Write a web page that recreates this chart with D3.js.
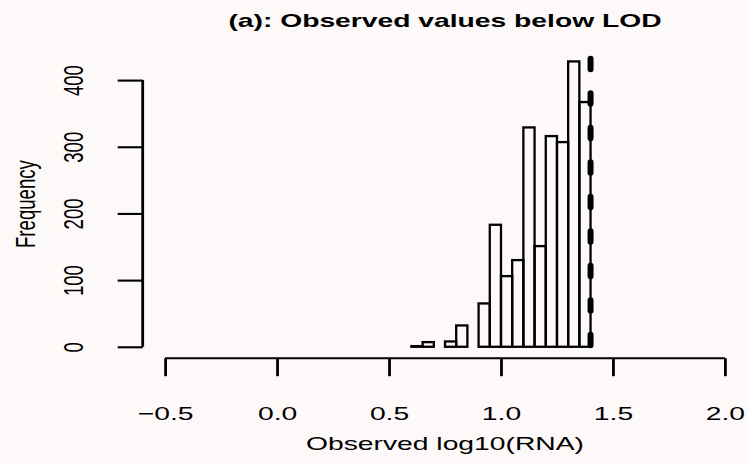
<!DOCTYPE html>
<html>
<head>
<meta charset="utf-8">
<script src="https://cdn.jsdelivr.net/npm/d3@7"></script>
<style>
  html, body { margin: 0; padding: 0; background: #fdf9f8; }
  svg { display: block; }
  text { font-family: "Liberation Sans", Arial, Helvetica, sans-serif; fill: #000; }
</style>
</head>
<body>
<svg id="chart"></svg>
<script>
const chartSize = { width: 748, height: 463 };
const plot = { left: 142.7, right: 747.3, top: 50, bottom: 358.2 };

// histogram bins (left edges) and counts
const binStarts = [0.60, 0.65, 0.70, 0.75, 0.80, 0.85, 0.90, 0.95, 1.00, 1.05, 1.10, 1.15, 1.20, 1.25, 1.30, 1.35];
const binWidth = 0.05;
const counts = [1, 7, 0, 8, 32, 0, 65, 183, 106, 130, 329, 151, 316, 307, 428, 367];
const xTicks = [-0.5, 0.0, 0.5, 1.0, 1.5, 2.0];
const yTicks = [0, 100, 200, 300, 400];
const lod = 1.4;
const lodTop = 433;

const title = "(a): Observed values below LOD";
const xTitle = "Observed log10(RNA)";
const yTitle = "Frequency";

const fontSize = 18.6;
const stretch = 1.52; // the picture is wider than it is tall
const fmt = d => d3.format(".1f")(d).replace("-", "\u2212");

const xPad = 0.04 * (d3.max(xTicks) - d3.min(xTicks));
const x = d3.scaleLinear()
  .domain([d3.min(xTicks) - xPad, d3.max(xTicks) + xPad])
  .range([plot.left, plot.right]);

const yMax = d3.max(counts);
const y = d3.scaleLinear()
  .domain([-0.04 * yMax, yMax * 1.04])
  .range([plot.bottom, plot.top]);

const svg = d3.select("#chart")
  .attr("width", chartSize.width)
  .attr("height", chartSize.height);

svg.append("rect")
  .attr("width", chartSize.width)
  .attr("height", chartSize.height)
  .attr("fill", "#fdf9f8");

const stretchedText = (sel, tx, ty, rot) =>
  sel.attr("transform", `translate(${tx},${ty}) scale(${stretch},1)${rot ? " rotate(-90)" : ""}`)
    .attr("font-size", fontSize)
    .attr("text-anchor", "middle");

// bars
svg.append("g")
  .selectAll("rect")
  .data(binStarts.map((b, i) => ({ x0: b, x1: b + binWidth, n: counts[i] })))
  .enter()
  .append("rect")
  .attr("x", d => x(d.x0))
  .attr("width", d => x(d.x1) - x(d.x0))
  .attr("y", d => y(d.n))
  .attr("height", d => y(0) - y(d.n))
  .attr("fill", "none")
  .attr("stroke", "#000")
  .attr("stroke-width", 2.3);

// LOD line
svg.append("line")
  .attr("x1", x(lod)).attr("x2", x(lod))
  .attr("y1", y(0)).attr("y2", y(lodTop))
  .attr("stroke", "#000")
  .attr("stroke-width", 6)
  .attr("stroke-linecap", "round")
  .attr("stroke-dasharray", "10.5 24")
  .attr("stroke-dashoffset", -1.6);

// x axis
const xAxis = d3.axisBottom(x).tickValues(xTicks).tickSize(18).tickFormat(fmt);
const gx = svg.append("g")
  .attr("transform", `translate(0,${plot.bottom})`)
  .call(xAxis);
gx.select(".domain").remove();
gx.selectAll(".tick line").attr("stroke-width", 2.8);
gx.selectAll(".tick text")
  .attr("x", null).attr("y", null).attr("dy", null)
  .each(function () { stretchedText(d3.select(this), 0, 420 - plot.bottom, false); });
gx.append("line")
  .attr("x1", x(d3.min(xTicks))).attr("x2", x(d3.max(xTicks)))
  .attr("stroke", "#000").attr("stroke-width", 2.1);

// y axis
const yAxis = d3.axisLeft(y).tickValues(yTicks).tickSize(25);
const gy = svg.append("g")
  .attr("transform", `translate(${plot.left},0)`)
  .call(yAxis);
gy.select(".domain").remove();
gy.selectAll(".tick line").attr("stroke-width", 2.1);
gy.selectAll(".tick text")
  .attr("x", null).attr("y", null).attr("dy", null)
  .each(function () { stretchedText(d3.select(this), 83.3 - plot.left, 0, true); });
gy.append("line")
  .attr("y1", y(d3.min(yTicks))).attr("y2", y(d3.max(yTicks)))
  .attr("stroke", "#000").attr("stroke-width", 2.8);

svg.selectAll(".tick text").attr("font-family", null).attr("fill", "#000");

// titles
const midX = (plot.left + plot.right) / 2;
const midY = (plot.top + plot.bottom) / 2;

svg.append("text")
  .text(title)
  .attr("font-weight", "bold")
  .call(stretchedText, midX, 27, false);

svg.append("text")
  .text(xTitle)
  .call(stretchedText, midX, 450, false);

svg.append("text")
  .text(yTitle)
  .call(stretchedText, 35.3, midY, true);
</script>
</body>
</html>
